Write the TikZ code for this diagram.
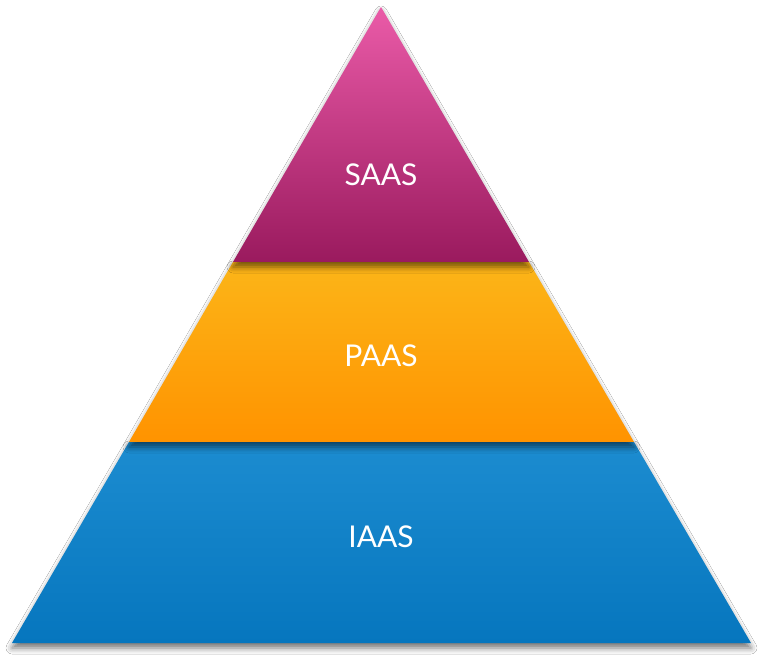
\documentclass[tikz,border=0pt]{standalone}
\usepackage{fontspec}
\setmainfont{Lato}
\usetikzlibrary{shadows.blur}
\definecolor{saastop}{HTML}{EA5BA8}
\definecolor{saasbot}{HTML}{9A1A5E}
\definecolor{paastop}{HTML}{FCB518}
\definecolor{paasbot}{HTML}{FF9300}
\definecolor{iaastop}{HTML}{1C8CD0}
\definecolor{iaasbot}{HTML}{0676BE}
\tikzset{
  layer/.style={blur shadow={shadow xshift=0pt, shadow yshift=-5pt, shadow blur radius=6pt, shadow opacity=55}},
  lbl/.style={text=white, font=\fontsize{30}{36}\selectfont}
}
\begin{document}
\begin{tikzpicture}[x=1pt,y=-1pt]
\useasboundingbox[fill=white] (0,0) rectangle (764,660);
\coordinate (apex) at (381,7);
\coordinate (bl) at (12,643);
\coordinate (br) at (751,643);
\coordinate (pl) at (129,442);
\coordinate (pr) at (634,442);
\coordinate (sl) at (233,262);
\coordinate (sr) at (529,262);
\path[layer, top color=iaastop, bottom color=iaasbot] (pl) -- (pr) -- (br) -- (bl) -- cycle;
\path[layer, top color=paastop, bottom color=paasbot] (sl) -- (sr) -- (pr) -- (pl) -- cycle;
\path[layer, top color=saastop, bottom color=saasbot] (apex) -- (sr) -- (sl) -- cycle;
\node[lbl] (saas) at (381,175) {SAAS};
\node[lbl] (paas) at (381,356) {PAAS};
\node[lbl] (iaas) at (381,537) {IAAS};
\end{tikzpicture}
\end{document}
